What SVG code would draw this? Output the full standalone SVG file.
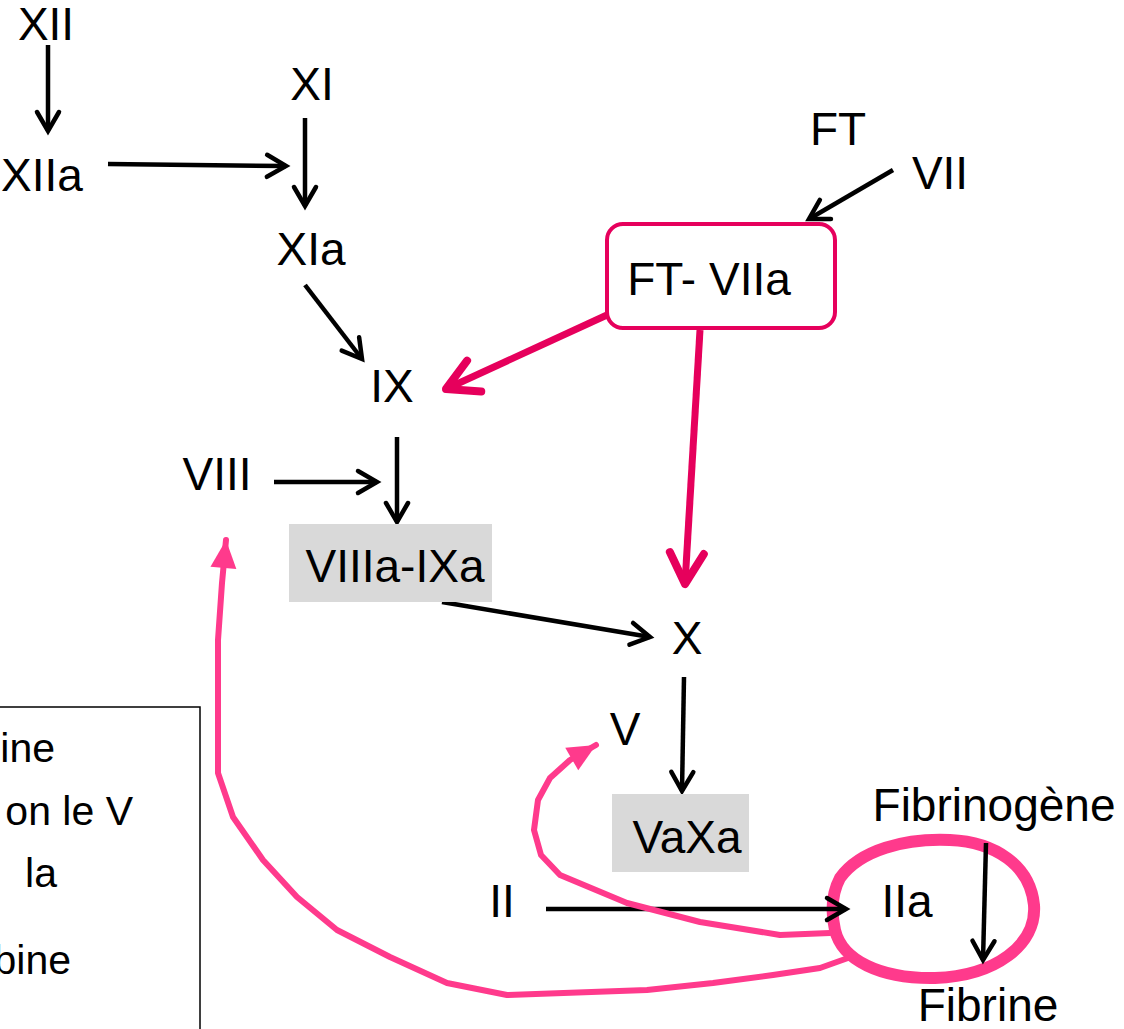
<svg xmlns="http://www.w3.org/2000/svg" width="1124" height="1029" viewBox="0 0 1124 1029">
  <style>
    text { font-family: "Liberation Sans", Arial, sans-serif; fill: #000; }
    .lbl { font-size: 46px; text-anchor: middle; }
    .leg { font-size: 41px; text-anchor: end; }
    .blk { fill: none; stroke: #000; stroke-width: 4.5; }
    .mag { fill: none; stroke: #E6005C; stroke-width: 7; }
    .pink { fill: none; stroke: #FF3A8C; stroke-width: 6; stroke-linejoin: round; stroke-linecap: round; }
    .grey { fill: #D9D9D9; }
  </style>
  <defs>
    <marker id="ah" markerUnits="userSpaceOnUse" viewBox="-26 -16 30 32" markerWidth="30" markerHeight="32" refX="0" refY="0" orient="auto" overflow="visible">
      <path d="M-19,-11 L0,0 L-19,11" fill="none" stroke="#000" stroke-width="4.5" stroke-linecap="round"/>
    </marker>
    <marker id="ahm" markerUnits="userSpaceOnUse" viewBox="-40 -22 46 44" markerWidth="46" markerHeight="44" refX="0" refY="0" orient="auto" overflow="visible">
      <path d="M-31,-17 L0,0 L-31,17" fill="none" stroke="#E6005C" stroke-width="8" stroke-linecap="round" stroke-linejoin="round"/>
    </marker>
    <marker id="ahp" markerUnits="userSpaceOnUse" viewBox="-34 -16 36 32" markerWidth="36" markerHeight="32" refX="0" refY="0" orient="auto" overflow="visible">
      <path d="M-28,-13 L0,0 L-28,13 Z" fill="#FF3A8C"/>
    </marker>
  </defs>

  <rect width="1124" height="1029" fill="#fff"/>

  <!-- legend box, running off the left edge -->
  <g id="legend">
    <rect x="-5" y="707" width="205" height="340" fill="none" stroke="#000" stroke-width="1.5"/>
    <text class="leg" x="55" y="762">ine</text>
    <text class="leg" x="133" y="825">on le V</text>
    <text class="leg" x="57" y="887">la</text>
    <text class="leg" x="71" y="974">bine</text>
  </g>

  <!-- thrombin ring around IIa -->
  <g id="ring">
    <path d="M840,878 C860,850 905,838 950,840 C995,842 1030,865 1034,905 C1037,945 995,976 935,978 C880,979 842,960 835,930 C831,912 832,893 840,878 Z" fill="none" stroke="#FF3A8C" stroke-width="12"/>
  </g>

  <!-- connectors -->
  <g id="connectors">
    <path class="blk" d="M48,45 L48,131" marker-end="url(#ah)"/>
    <path class="blk" d="M108,164 L286,166" marker-end="url(#ah)"/>
    <path class="blk" d="M305,118 L305,206" marker-end="url(#ah)"/>
    <path class="blk" d="M305,285 L362,359" marker-end="url(#ah)"/>
    <path class="blk" d="M893,170 L809,219" marker-end="url(#ah)"/>
    <path class="blk" d="M397,437 L397,522" marker-end="url(#ah)"/>
    <path class="blk" d="M274,482 L377,482" marker-end="url(#ah)"/>
    <path class="blk" d="M442,602 L650,637" marker-end="url(#ah)"/>
    <path class="blk" d="M684,677 L682,791" marker-end="url(#ah)"/>
    <path class="blk" d="M546,909 L846,909" marker-end="url(#ah)"/>
    <path class="blk" d="M986,843 L983,960" marker-end="url(#ah)"/>

    <path class="mag" d="M607,315 L446,389" marker-end="url(#ahm)"/>
    <path class="mag" d="M700,330 L685,584" marker-end="url(#ahm)"/>

    <path class="pink" d="M830,933 L780,935 L700,922 L627,903 L560,875 L541,855 L534,830 L538,800 L550,778 L570,760 L596,745" marker-end="url(#ahp)"/>
    <path class="pink" d="M848,958 L820,968 L773,975 L713,983 L647,990 L507,995 L447,983 L390,957 L337,930 L297,897 L263,860 L233,817 L218,773 L218,640 L222,583 L226,540" marker-end="url(#ahp)"/>
  </g>

  <!-- nodes -->
  <g id="n-XII"><text class="lbl" x="46" y="40">XII</text></g>
  <g id="n-XIIa"><text class="lbl" x="42" y="191">XIIa</text></g>
  <g id="n-XI"><text class="lbl" x="312" y="100">XI</text></g>
  <g id="n-XIa"><text class="lbl" x="311" y="265">XIa</text></g>
  <g id="n-FT"><text class="lbl" x="838" y="145">FT</text></g>
  <g id="n-VII"><text class="lbl" x="940" y="189">VII</text></g>
  <g id="n-FT-VIIa">
    <rect x="607" y="224" width="228" height="104" rx="16" fill="#fff" stroke="#E6005C" stroke-width="4"/>
    <text class="lbl" x="709" y="295">FT- VIIa</text>
  </g>
  <g id="n-IX"><text class="lbl" x="392" y="402">IX</text></g>
  <g id="n-VIII"><text class="lbl" x="217" y="490">VIII</text></g>
  <g id="n-VIIIa-IXa">
    <rect class="grey" x="289" y="524" width="203" height="78"/>
    <text class="lbl" x="395" y="582">VIIIa-IXa</text>
  </g>
  <g id="n-X"><text class="lbl" x="687" y="654">X</text></g>
  <g id="n-V"><text class="lbl" x="625" y="745">V</text></g>
  <g id="n-VaXa">
    <rect class="grey" x="612" y="794" width="137" height="78"/>
    <text class="lbl" x="687" y="853">VaXa</text>
  </g>
  <g id="n-II"><text class="lbl" x="502" y="917">II</text></g>
  <g id="n-IIa"><text class="lbl" x="907" y="917">IIa</text></g>
  <g id="n-Fibrinogene"><text class="lbl" x="994" y="821">Fibrinogène</text></g>
  <g id="n-Fibrine"><text class="lbl" x="988" y="1021">Fibrine</text></g>
</svg>
